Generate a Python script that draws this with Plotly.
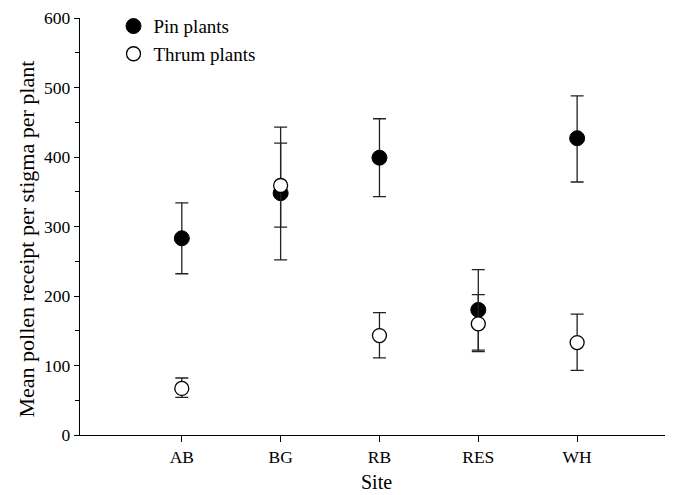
import plotly.graph_objects as go

sites = ["AB", "BG", "RB", "RES", "WH"]
pin_mean = [283, 348, 399, 180, 427]
pin_upper = [334, 443, 455, 238, 488]
pin_lower = [232, 252, 343, 120, 364]
thrum_mean = [67, 359, 143, 160, 133]
thrum_upper = [82, 420, 176, 202, 174]
thrum_lower = [54, 299, 111, 122, 93]

xpos = list(range(len(sites)))

def errs(mean, up, lo):
    return ([u - m for u, m in zip(up, mean)], [m - l for m, l in zip(mean, lo)])

pu, pl = errs(pin_mean, pin_upper, pin_lower)
tu, tl = errs(thrum_mean, thrum_upper, thrum_lower)

fig = go.Figure()
fig.add_trace(go.Scatter(
    x=xpos, y=pin_mean, mode="markers", name="Pin plants",
    marker=dict(symbol="circle", size=15, color="black", line=dict(color="black", width=1)),
    error_y=dict(type="data", symmetric=False, array=pu, arrayminus=pl,
                 color="#222222", thickness=1.3, width=6.5),
))
fig.add_trace(go.Scatter(
    x=xpos, y=thrum_mean, mode="markers", name="Thrum plants",
    marker=dict(symbol="circle", size=14, color="white", line=dict(color="black", width=1.3)),
    error_y=dict(type="data", symmetric=False, array=tu, arrayminus=tl,
                 color="#222222", thickness=1.3, width=6.5),
))

font = "Liberation Serif, Times New Roman, serif"
fig.update_layout(
    width=665, height=487,
    margin=dict(l=72, r=0, t=10, b=60, autoexpand=False),
    plot_bgcolor="white", paper_bgcolor="white",
    font=dict(family=font, size=17, color="black"),
    showlegend=True,
    legend=dict(x=0.0565, y=1.0259, xanchor="left", yanchor="top",
                bgcolor="rgba(0,0,0,0)", font=dict(size=19, family=font),
                itemsizing="trace", tracegroupgap=0, itemwidth=30),
    xaxis=dict(
        range=[-1.03, 4.97], tickmode="array", tickvals=xpos, ticktext=sites,
        showgrid=False, zeroline=False, showline=True, linecolor="black", linewidth=1.3,
        ticks="outside", ticklen=6, tickcolor="black", tickwidth=1.3, automargin=False,
        ticklabeloverflow="allow",
        tickfont=dict(size=17.5, family=font),
    ),
    yaxis=dict(
        range=[0, 600], tickmode="array", tickvals=[0, 100, 200, 300, 400, 500, 600],
        showgrid=False, zeroline=False, showline=True, linecolor="black", linewidth=1.3,
        ticks="outside", ticklen=5, tickcolor="black", tickwidth=1.3, automargin=False,
        ticklabeloverflow="allow",
        minor=dict(tickvals=[50, 150, 250, 350, 450, 550], ticks="outside", ticklen=4,
                   tickcolor="black", tickwidth=1.3),
        tickfont=dict(size=17.5, family=font),
    ),
    annotations=[
        dict(text="Site", xref="paper", yref="paper", x=0.5, y=-0.1127,
             xanchor="center", yanchor="middle", showarrow=False,
             font=dict(size=20, family=font)),
        dict(text="Mean pollen receipt per stigma per plant", xref="paper", yref="paper",
             x=-0.0894, y=0.4712, xanchor="center", yanchor="middle", textangle=-90,
             showarrow=False, font=dict(size=22, family=font)),
    ],
)

fig.write_html("out.html")
